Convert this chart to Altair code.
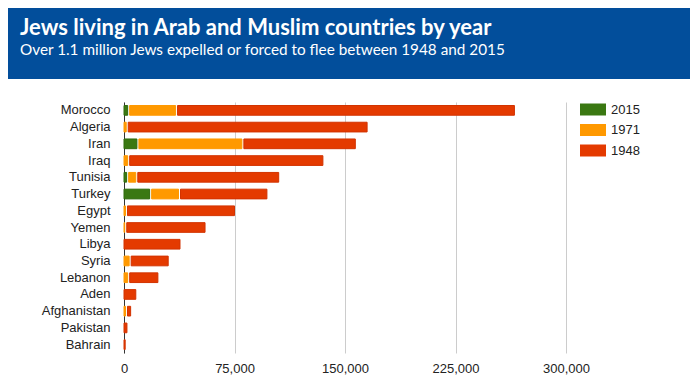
import altair as alt
import pandas as pd

title_text = "Jews living in Arab and Muslim countries by year"
subtitle_text = "Over 1.1 million Jews expelled or forced to flee between 1948 and 2015"

countries = ["Morocco", "Algeria", "Iran", "Iraq", "Tunisia", "Turkey", "Egypt", "Yemen",
             "Libya", "Syria", "Lebanon", "Aden", "Afghanistan", "Pakistan", "Bahrain"]
v1948 = [265000, 165000, 157000, 135000, 105000, 97000, 75000, 55000,
         38000, 30000, 23000, 8000, 4500, 2000, 800]
v1971 = [35000, 1500, 80000, 2500, 8000, 37000, 1000, 500,
         0, 3500, 2500, 0, 1000, 0, 0]
v2015 = [2500, 0, 8756, 0, 1800, 17400, 0, 0,
         0, 0, 0, 0, 0, 0, 0]

years = ["2015", "1971", "1948"]
fill_colors = ["#3a7812", "#ff9900", "#e43a00"]
stroke_colors = ["#2f6a0c", "#ff9900", "#d23300"]
x_ticks = [0, 75000, 150000, 225000, 300000]

rows = []
for c, a, b, d in zip(countries, v2015, v1971, v1948):
    if a > 0:
        rows.append({"country": c, "year": "2015", "start": 0, "end": a})
    if b > a:
        rows.append({"country": c, "year": "1971", "start": a, "end": b})
    s = max(a, b)
    if d > s:
        rows.append({"country": c, "year": "1948", "start": s, "end": d})
df = pd.DataFrame(rows)

label_font = "Arial, Liberation Sans"

header = alt.Chart(pd.DataFrame({"k": [0]})).mark_rect(color="#024e9b").encode(
    x=alt.value(-116), x2=alt.value(566), y=alt.value(-94), y2=alt.value(-23)
)

title = alt.Chart(pd.DataFrame({"t": [title_text]})).mark_text(
    align="left", baseline="alphabetic", font="Lato", fontSize=22,
    fontWeight="bold", color="white"
).encode(x=alt.value(-104), y=alt.value(-67), text="t:N")

subtitle = alt.Chart(pd.DataFrame({"t": [subtitle_text]})).mark_text(
    align="left", baseline="alphabetic", font="Lato", fontSize=15.3,
    fontWeight="normal", color="white"
).encode(x=alt.value(-104), y=alt.value(-47), text="t:N")

bars = alt.Chart(df).mark_bar(
    xOffset=alt.ExprRef("datum.start > 0 ? 2 : 0"), strokeWidth=1
).encode(
    y=alt.Y("country:N", sort=countries, title=None,
            scale=alt.Scale(paddingInner=0.42, paddingOuter=0.21),
            axis=alt.Axis(domain=True, domainColor="#333333", domainWidth=1,
                          ticks=False, labelPadding=14, labelFontSize=13,
                          labelFont=label_font, labelColor="#222222", grid=False)),
    x=alt.X("start:Q", title=None, scale=alt.Scale(domain=[0, 300000], nice=False),
            axis=alt.Axis(values=x_ticks, format=",d", grid=True, gridColor="#cccccc",
                          domain=False, ticks=False, labelPadding=9, labelFontSize=13,
                          labelFlush=False,
                          labelFont=label_font, labelColor="#222222")),
    x2="end:Q",
    color=alt.Color("year:N", scale=alt.Scale(domain=years, range=fill_colors),
                    legend=alt.Legend(title=None, orient="none", legendX=456, legendY=-5.5,
                                      symbolType="M-1,-0.4615L1,-0.4615L1,0.4615L-1,0.4615Z",
                                      symbolSize=676, symbolStrokeWidth=0, rowPadding=0.5,
                                      labelFont=label_font, labelFontSize=13,
                                      labelColor="#222222", labelOffset=5, padding=0)),
    stroke=alt.Stroke("year:N", scale=alt.Scale(domain=years, range=stroke_colors), legend=None),
)

chart = alt.layer(header, title, subtitle, bars).properties(
    width=442, height=251,
    autosize=alt.AutoSizeParams(type="none"),
    padding={"left": 116, "top": 94, "right": 124, "bottom": 27},
).configure_view(strokeWidth=0)

chart.save("out.html", embed_options={"renderer": "svg", "actions": False})
